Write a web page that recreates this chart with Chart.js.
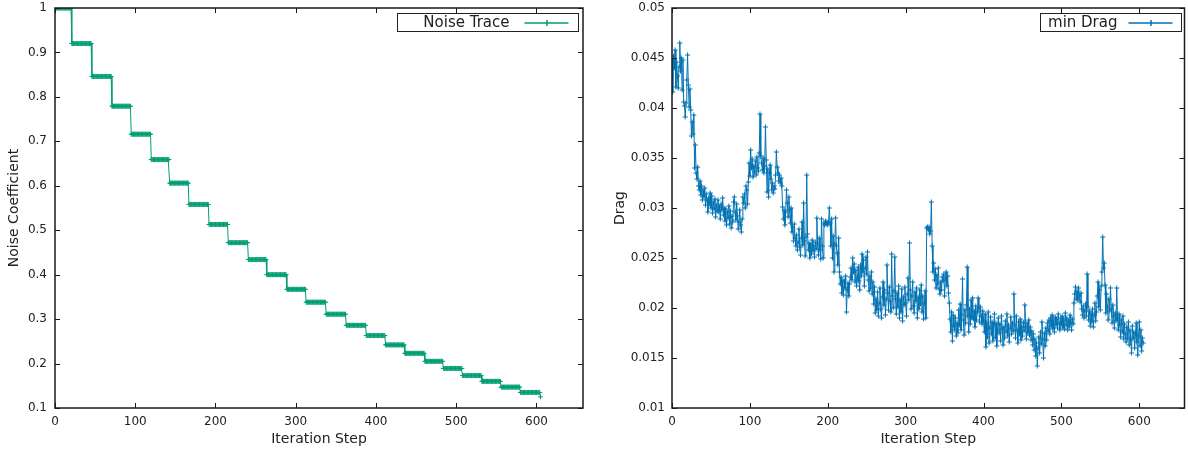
<!DOCTYPE html>
<html><head><meta charset="utf-8">
<script src="https://cdn.jsdelivr.net/npm/chart.js@4.4.1/dist/chart.umd.min.js"></script>
<style>
html,body{margin:0;padding:0;background:#fff;overflow:hidden}
#wrap{position:relative;width:1188px;height:449px;background:#fff}
.pane{position:absolute;top:0;width:594px;height:449px}
canvas{display:block}
</style></head><body>
<div id="wrap">
<div class="pane" style="left:0"><canvas id="c1" width="594" height="449"></canvas></div>
<div class="pane" style="left:594px"><canvas id="c2" width="594" height="449"></canvas></div>
</div>
<script>
// ---- data ----
const iterTicks = [0, 100, 200, 300, 400, 500, 600];
const noiseTicks = [0.1, 0.2, 0.3, 0.4, 0.5, 0.6, 0.7, 0.8, 0.9, 1];
const noiseTickLabels = ['0.1', '0.2', '0.3', '0.4', '0.5', '0.6', '0.7', '0.8', '0.9', '1'];
const dragTicks = [0.01, 0.015, 0.02, 0.025, 0.03, 0.035, 0.04, 0.045, 0.05];
const dragTickLabels = ['0.01', '0.015', '0.02', '0.025', '0.03', '0.035', '0.04', '0.045', '0.05'];

// noise coefficient: level held from each start iteration
const noiseStepStarts = [0, 21, 46, 71, 95, 120, 143, 167, 192, 216, 241, 264, 289, 313, 338, 363, 388, 412, 436, 461, 484, 508, 532, 556, 580, 605];
const noiseLevels = [1.0, 0.920, 0.846, 0.779, 0.716, 0.659, 0.606, 0.558, 0.513, 0.472, 0.434, 0.400, 0.367, 0.338, 0.311, 0.286, 0.263, 0.242, 0.223, 0.205, 0.189, 0.173, 0.160, 0.147, 0.135, 0.125];
const lastIteration = 605;

// min drag per iteration (0..605)
const dragValues = [
0.0448,0.0416,0.0452,0.0440,0.0458,0.0421,0.0446,0.0432,0.0420,0.0441,0.0465,0.0437,0.0450,0.0418,0.0448,0.0406,0.0402,0.0391,0.0405,0.0428,
0.0453,0.0423,0.0401,0.0419,0.0398,0.0372,0.0386,0.0374,0.0393,0.0340,0.0363,0.0335,0.0329,0.0341,0.0322,0.0318,0.0327,0.0313,0.0322,0.0308,
0.0318,0.0311,0.0320,0.0303,0.0314,0.0308,0.0296,0.0310,0.0304,0.0315,0.0300,0.0312,0.0295,0.0306,0.0299,0.0309,0.0291,0.0303,0.0297,0.0308,
0.0296,0.0301,0.0289,0.0304,0.0298,0.0310,0.0293,0.0300,0.0287,0.0299,0.0283,0.0296,0.0290,0.0302,0.0284,0.0297,0.0280,0.0292,0.0286,0.0306,
0.0311,0.0296,0.0288,0.0304,0.0292,0.0279,0.0286,0.0298,0.0283,0.0276,0.0289,0.0311,0.0305,0.0314,0.0300,0.0322,0.0318,0.0304,0.0326,0.0345,
0.0332,0.0358,0.0340,0.0349,0.0331,0.0342,0.0336,0.0347,0.0333,0.0351,0.0340,0.0337,0.0355,0.0394,0.0352,0.0345,0.0338,0.0350,0.0335,0.0342,
0.0381,0.0348,0.0316,0.0339,0.0311,0.0335,0.0343,0.0329,0.0318,0.0325,0.0315,0.0322,0.0319,0.0333,0.0356,0.0341,0.0335,0.0327,0.0333,0.0325,
0.0330,0.0322,0.0301,0.0289,0.0298,0.0283,0.0296,0.0318,0.0305,0.0291,0.0311,0.0298,0.0285,0.0300,0.0276,0.0281,0.0267,0.0284,0.0270,0.0262,
0.0273,0.0258,0.0266,0.0279,0.0261,0.0253,0.0270,0.0286,0.0263,0.0305,0.0267,0.0252,0.0271,0.0333,0.0274,0.0258,0.0265,0.0250,0.0263,0.0254,
0.0268,0.0257,0.0262,0.0251,0.0266,0.0259,0.0290,0.0264,0.0253,0.0270,0.0258,0.0249,0.0289,0.0262,0.0250,0.0285,0.0283,0.0287,0.0284,0.0286,
0.0283,0.0286,0.0300,0.0285,0.0262,0.0289,0.0250,0.0272,0.0236,0.0264,0.0290,0.0262,0.0255,0.0243,0.0270,0.0236,0.0224,0.0231,0.0215,0.0226,
0.0213,0.0228,0.0220,0.0232,0.0196,0.0218,0.0225,0.0212,0.0224,0.0231,0.0240,0.0228,0.0250,0.0236,0.0244,0.0226,0.0238,0.0222,0.0230,0.0241,
0.0227,0.0218,0.0243,0.0232,0.0254,0.0236,0.0248,0.0222,0.0240,0.0251,0.0234,0.0256,0.0228,0.0217,0.0232,0.0220,0.0236,0.0214,0.0226,0.0204,
0.0221,0.0195,0.0209,0.0198,0.0216,0.0192,0.0205,0.0220,0.0199,0.0190,0.0211,0.0226,0.0203,0.0218,0.0193,0.0209,0.0243,0.0215,0.0198,0.0221,
0.0207,0.0196,0.0254,0.0212,0.0200,0.0217,0.0251,0.0209,0.0194,0.0215,0.0201,0.0222,0.0190,0.0208,0.0196,0.0219,0.0187,0.0211,0.0203,0.0221,
0.0205,0.0192,0.0214,0.0230,0.0208,0.0265,0.0218,0.0199,0.0212,0.0226,0.0202,0.0195,0.0216,0.0207,0.0220,0.0190,0.0211,0.0199,0.0218,0.0204,
0.0223,0.0196,0.0212,0.0189,0.0205,0.0217,0.0190,0.0280,0.0281,0.0278,0.0281,0.0274,0.0277,0.0306,0.0262,0.0236,0.0245,0.0228,0.0239,0.0220,
0.0233,0.0224,0.0240,0.0219,0.0214,0.0226,0.0218,0.0231,0.0227,0.0234,0.0212,0.0229,0.0236,0.0222,0.0232,0.0215,0.0205,0.0189,0.0176,0.0196,
0.0167,0.0193,0.0182,0.0178,0.0190,0.0172,0.0185,0.0175,0.0198,0.0183,0.0204,0.0178,0.0193,0.0229,0.0188,0.0173,0.0198,0.0185,0.0203,0.0241,
0.0192,0.0176,0.0199,0.0184,0.0208,0.0190,0.0210,0.0189,0.0197,0.0181,0.0202,0.0188,0.0196,0.0210,0.0199,0.0186,0.0201,0.0192,0.0184,0.0197,
0.0188,0.0176,0.0194,0.0161,0.0185,0.0171,0.0196,0.0165,0.0180,0.0191,0.0174,0.0186,0.0167,0.0183,0.0194,0.0170,0.0185,0.0162,0.0178,0.0190,
0.0175,0.0184,0.0167,0.0192,0.0179,0.0163,0.0181,0.0170,0.0187,0.0176,0.0194,0.0172,0.0183,0.0166,0.0180,0.0191,0.0174,0.0185,0.0177,0.0214,
0.0183,0.0170,0.0192,0.0178,0.0165,0.0186,0.0174,0.0189,0.0168,0.0181,0.0172,0.0186,0.0177,0.0203,0.0181,0.0169,0.0185,0.0175,0.0188,0.0173,
0.0181,0.0168,0.0177,0.0163,0.0174,0.0158,0.0169,0.0152,0.0165,0.0142,0.0160,0.0171,0.0155,0.0176,0.0164,0.0186,0.0169,0.0150,0.0175,0.0162,
0.0180,0.0168,0.0185,0.0177,0.0188,0.0174,0.0190,0.0182,0.0193,0.0179,0.0187,0.0176,0.0191,0.0183,0.0189,0.0180,0.0194,0.0185,0.0178,0.0190,
0.0184,0.0192,0.0180,0.0188,0.0179,0.0195,0.0183,0.0190,0.0178,0.0187,0.0181,0.0193,0.0185,0.0178,0.0189,0.0184,0.0205,0.0214,0.0221,0.0209,
0.0217,0.0208,0.0220,0.0212,0.0206,0.0215,0.0199,0.0193,0.0202,0.0190,0.0197,0.0204,0.0192,0.0234,0.0201,0.0188,0.0197,0.0182,0.0195,0.0186,
0.0199,0.0181,0.0193,0.0205,0.0187,0.0196,0.0212,0.0226,0.0201,0.0218,0.0198,0.0222,0.0236,0.0271,0.0240,0.0245,0.0223,0.0195,0.0214,0.0201,
0.0188,0.0209,0.0197,0.0220,0.0199,0.0185,0.0203,0.0192,0.0180,0.0195,0.0187,0.0220,0.0190,0.0178,0.0194,0.0183,0.0171,0.0188,0.0176,0.0192,
0.0169,0.0184,0.0174,0.0166,0.0181,0.0170,0.0186,0.0163,0.0178,0.0168,0.0155,0.0182,0.0170,0.0176,0.0160,0.0174,0.0185,0.0166,0.0153,0.0172,
0.0186,0.0162,0.0178,0.0157,0.0170,0.0165
];

// ---- build point lists from the read values ----
const noisePoints = [];
for (let i = 0; i <= lastIteration; i++) {
  let k = 0;
  while (k + 1 < noiseStepStarts.length && noiseStepStarts[k + 1] <= i) k++;
  noisePoints.push({ x: i, y: noiseLevels[k] });
}
const dragPoints = dragValues.map((v, i) => ({ x: i, y: v }));

// ---- styling ----
const FONT = 'DejaVu Sans';
const TXT = '#222';
const seriesColors = { c1: '#009e73', c2: '#0072b2' };

const framePlugin = {
  id: 'frame',
  afterDatasetsDraw(chart, args, opts) {
    const { ctx, chartArea: a, scales: { x, y } } = chart;
    const ds = chart.data.datasets[0];
    const seriesColor = seriesColors[chart.canvas.id];
    ctx.save();
    ctx.strokeStyle = '#1a1a1a';
    ctx.lineWidth = 1;
    ctx.beginPath();
    const tl = 5;
    x.ticks.forEach(t => {
      const px = Math.round(x.getPixelForValue(t.value)) + 0.5;
      ctx.moveTo(px, a.bottom); ctx.lineTo(px, a.bottom - tl);
      ctx.moveTo(px, a.top); ctx.lineTo(px, a.top + tl);
    });
    y.ticks.forEach(t => {
      const py = Math.round(y.getPixelForValue(t.value)) + 0.5;
      ctx.moveTo(a.left, py); ctx.lineTo(a.left + tl, py);
      ctx.moveTo(a.right, py); ctx.lineTo(a.right - tl, py);
    });
    ctx.stroke();
    ctx.lineWidth = 1.5;
    ctx.strokeRect(a.left, a.top, a.right - a.left, a.bottom - a.top);

    // key box
    const bw = opts.boxWidth, bh = 18;
    const bx = Math.round(a.right - opts.rightGap - bw) + 0.5;
    const by = Math.round(a.top + 5) + 0.5;
    ctx.fillStyle = '#fff';
    ctx.fillRect(bx, by, bw, bh);
    ctx.lineWidth = 1;
    ctx.strokeStyle = '#222';
    ctx.strokeRect(bx, by, bw, bh);
    const lineEnd = bx + bw - opts.innerRight;
    const lineStart = lineEnd - 44;
    const cy = Math.round(by + bh / 2);
    ctx.strokeStyle = seriesColor;
    ctx.lineWidth = 1.5;
    ctx.beginPath();
    ctx.moveTo(lineStart, cy); ctx.lineTo(lineEnd, cy);
    const mx = Math.round((lineStart + lineEnd) / 2);
    ctx.moveTo(mx, cy - 3); ctx.lineTo(mx, cy + 3);
    ctx.stroke();
    ctx.fillStyle = TXT;
    ctx.font = '15px "' + FONT + '"';
    ctx.textAlign = 'right';
    ctx.textBaseline = 'middle';
    ctx.fillText(ds.label, lineStart - opts.textGap, cy);
    ctx.restore();
  }
};

function makeChart(canvasId, cfg) {
  return new Chart(document.getElementById(canvasId), {
    type: 'line',
    data: {
      datasets: [{
        label: cfg.label,
        data: cfg.points,
        borderColor: seriesColors[canvasId],
        backgroundColor: seriesColors[canvasId],
        borderWidth: 1,
        pointStyle: 'cross',
        pointRadius: 2.5,
        pointBorderWidth: 1,
        pointBorderColor: seriesColors[canvasId],
        pointHoverRadius: 2.5,
        fill: false,
        tension: 0
      }]
    },
    options: {
      responsive: false,
      animation: false,
      events: [],
      layout: { padding: cfg.padding },
      plugins: {
        legend: { display: false },
        tooltip: { enabled: false },
        frame: cfg.key
      },
      scales: {
        x: {
          type: 'linear', min: 0, max: cfg.xMax,
          afterBuildTicks: s => { s.ticks = iterTicks.map(v => ({ value: v })); },
          afterFit: s => { s.height = 41; s.paddingLeft = 0; s.paddingRight = 0; },
          grid: { display: false, drawTicks: false },
          border: { display: false },
          ticks: { padding: 7, color: TXT, font: { family: FONT, size: 12 }, maxRotation: 0, autoSkip: false, callback: v => String(v) },
          title: { display: true, text: 'Iteration Step', color: TXT, font: { family: FONT, size: 14 }, padding: { top: 0, bottom: 1 } }
        },
        y: {
          type: 'linear', min: cfg.yMin, max: cfg.yMax,
          afterBuildTicks: s => { s.ticks = cfg.yTicks.map(v => ({ value: v })); },
          afterFit: s => { s.width = cfg.yWidth; s.paddingTop = 0; s.paddingBottom = 0; },
          grid: { display: false, drawTicks: false },
          border: { display: false },
          ticks: { padding: cfg.yPad, color: TXT, font: { family: FONT, size: 12 }, autoSkip: false, callback: (v, i) => cfg.yLabels[i] },
          title: { display: true, text: cfg.yTitle, color: TXT, font: { family: FONT, size: 14 }, padding: { top: cfg.yTitlePad, bottom: 0 } }
        }
      }
    },
    plugins: [framePlugin]
  });
}

makeChart('c1', {
  label: 'Noise Trace', points: noisePoints,
  padding: { top: 8, right: 11, bottom: 0, left: 0 },
  xMax: 658, yMin: 0.1, yMax: 1, yTicks: noiseTicks, yLabels: noiseTickLabels,
  yWidth: 55, yPad: 8, yTitle: 'Noise Coefficient', yTitlePad: 6,
  key: { boxWidth: 181, rightGap: 5, innerRight: 10, textGap: 15 }
});

makeChart('c2', {
  label: 'min Drag', points: dragPoints,
  padding: { top: 8, right: 1, bottom: 0, left: 0 },
  xMax: 658, yMin: 0.01, yMax: 0.05, yTicks: dragTicks, yLabels: dragTickLabels,
  yWidth: 78, yPad: 7, yTitle: 'Drag', yTitlePad: 18,
  key: { boxWidth: 141, rightGap: 4, innerRight: 9, textGap: 11 }
});
</script>
</body></html>
